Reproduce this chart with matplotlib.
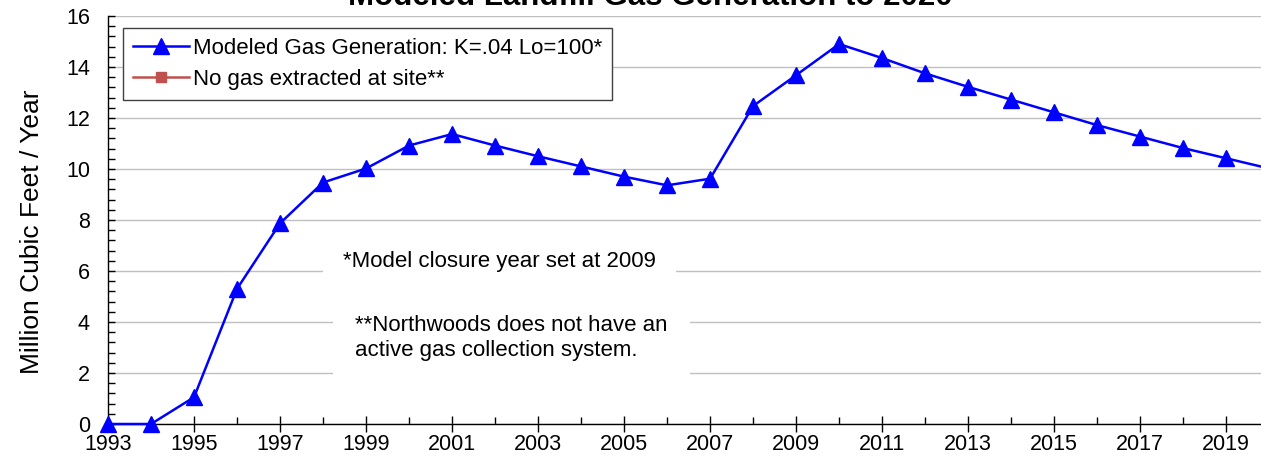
import numpy as np
import matplotlib
matplotlib.use("Agg")
import matplotlib.pyplot as plt
from matplotlib.ticker import MultipleLocator

plt.rcParams['font.family'] = ['Liberation Sans', 'DejaVu Sans']

# modeled gas generation, million cubic feet per year
years = [1993, 1994, 1995, 1996, 1997, 1998, 1999, 2000, 2001, 2002,
         2003, 2004, 2005, 2006, 2007, 2008, 2009, 2010, 2011, 2012,
         2013, 2014, 2015, 2016, 2017, 2018, 2019, 2020]
modeled_gas = [0.0, 0.0, 1.05, 5.3, 7.87, 9.47, 10.02, 10.92, 11.37, 10.92,
               10.5, 10.1, 9.7, 9.36, 9.62, 12.47, 13.68, 14.9, 14.35, 13.75,
               13.22, 12.72, 12.22, 11.72, 11.27, 10.82, 10.42, 10.02]
# no extraction at site: series has no points
extracted_years = []
extracted_gas = []

tick_years = list(range(1993, 2020, 2))

fig = plt.figure(figsize=(12.61, 4.63), dpi=100)
ax = fig.add_axes([108 / 1261, 39 / 463, 1 - 108 / 1261, 408 / 463])

ax.plot(years, modeled_gas, color='#0000FF', lw=1.8, marker='^', ms=11,
        label='Modeled Gas Generation: K=.04 Lo=100*', clip_on=False, zorder=5)
ax.plot(extracted_years, extracted_gas, color='#C0504D', lw=1.8, marker='s', ms=7,
        label='No gas extracted at site**')

ax.set_xlim(1993, 2019.81)
ax.set_ylim(0, 16)
ax.set_xticks(tick_years)
ax.set_xticklabels([str(y) for y in tick_years])
ax.xaxis.set_minor_locator(MultipleLocator(1))
ax.yaxis.set_major_locator(MultipleLocator(2))
ax.yaxis.set_minor_locator(MultipleLocator(0.4))

ax.tick_params(axis='x', which='major', direction='inout', length=12, width=1,
               labelsize=15.5, pad=1)
ax.tick_params(axis='x', which='minor', direction='in', length=5, width=1)
ax.tick_params(axis='y', which='major', direction='in', length=5, width=1,
               labelsize=15.5, pad=13)
ax.tick_params(axis='y', which='minor', direction='in', length=5, width=1)

ax.grid(True, which='major', axis='y', color='#c0c0c0', lw=1)
ax.set_axisbelow(True)
for side in ['top', 'right']:
    ax.spines[side].set_visible(False)
ax.spines['left'].set_linewidth(1)
ax.spines['bottom'].set_linewidth(1)

ax.set_ylabel('Million Cubic Feet / Year', fontsize=19)
ax.yaxis.set_label_coords(-64 / 1153, (424 - 232) / 408)

leg = ax.legend(loc='upper left', bbox_to_anchor=(15 / 1153, 1 - 12 / 408),
                fontsize=16, handlelength=2.5, handletextpad=0.2,
                borderpad=0.45, labelspacing=0.45, fancybox=False,
                framealpha=1, edgecolor='#404040', borderaxespad=0)
leg.get_frame().set_linewidth(1)

fig.text(343 / 1261, 1 - 262 / 463, '*Model closure year set at 2009',
         fontsize=16, va='center', ha='left',
         bbox=dict(facecolor='white', edgecolor='none',
                   boxstyle='square,pad=0.9'))
fig.text(355 / 1261, 1 - 338 / 463,
         '**Northwoods does not have an\nactive gas collection system.',
         fontsize=16, va='center', ha='left', linespacing=1.25,
         bbox=dict(facecolor='white', edgecolor='none',
                   boxstyle='square,pad=1.0'))

fig.text(650 / 1261, 1 - 5 / 463, 'Modeled Landfill Gas Generation to 2020',
         fontsize=22.5, fontweight='bold', ha='center', va='baseline')

fig.savefig('out.png', dpi=100, facecolor='white')
